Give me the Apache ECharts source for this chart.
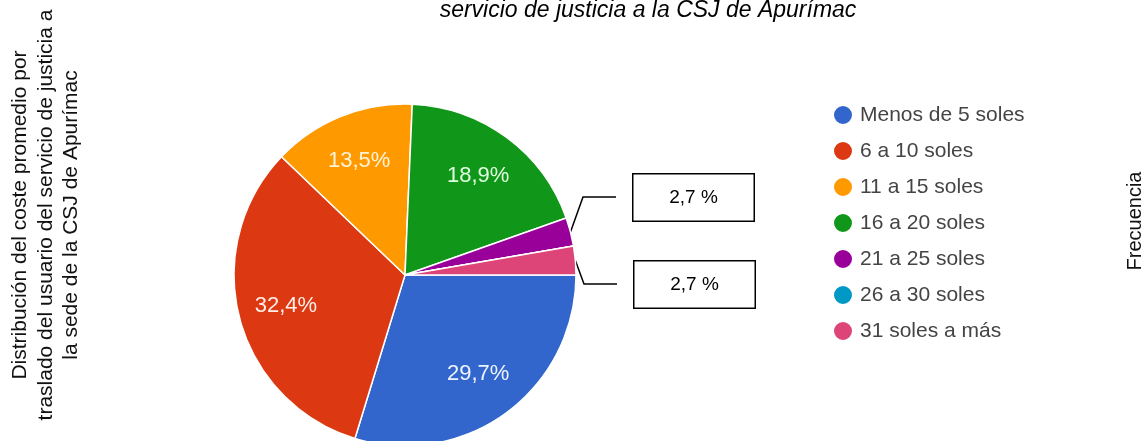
<!DOCTYPE html>
<html>
<head>
<meta charset="utf-8">
<script src="https://cdn.jsdelivr.net/npm/echarts@6/dist/echarts.min.js"></script>
<style>
html,body{margin:0;padding:0;background:#fff;}
#chart{width:1146px;height:441px;}
</style>
</head>
<body>
<div id="chart"></div>
<script>
const titleText = 'servicio de justicia a la CSJ de Apurímac';
const leftTitle = ['Distribución del coste promedio por', 'traslado del usuario del servicio de justicia a', 'la sede de la CSJ de Apurímac'];
const rightTitle = 'Frecuencia';
const categories = ['Menos de 5 soles', '6 a 10 soles', '11 a 15 soles', '16 a 20 soles', '21 a 25 soles', '26 a 30 soles', '31 soles a más'];
const counts = [11, 12, 5, 7, 1, 0, 1];
const colors = ['#3366cc', '#dc3912', '#ff9900', '#109618', '#990099', '#0099c6', '#dd4477'];
const insideLabelColors = ['#eef3ff', '#ffeee8', '#fff3d8', '#e0ffe0', '#ffffff', '#ffffff', '#ffffff'];
const calloutIdx = [4, 6];

const FONT = 'Liberation Sans, Arial, sans-serif';
const fmtPct = (p, sp) => p.toFixed(1).replace('.', ',') + (sp ? ' %' : '%');

const mainData = categories.map((n, i) => ({
  name: n,
  value: counts[i],
  itemStyle: { color: colors[i] },
  label: calloutIdx.indexOf(i) >= 0 ? { show: true } : { show: false },
  labelLine: { show: calloutIdx.indexOf(i) >= 0 }
}));
const labelData = categories.map((n, i) => ({
  name: n,
  value: counts[i],
  label: { show: counts[i] > 0 && calloutIdx.indexOf(i) < 0, color: insideLabelColors[i] }
}));

// callout box placement (annotation layout)
const boxLayout = {
  4: { left: 632, top: 173, bendY: 197 },
  6: { left: 633, top: 260, bendY: 284 }
};

const chart = echarts.init(document.getElementById('chart'));
chart.setOption({
  animation: false,
  title: {
    text: titleText,
    left: 648, textAlign: 'center', top: -1, padding: 0,
    textStyle: { fontSize: 23, fontStyle: 'italic', fontWeight: 'normal', color: '#000', fontFamily: FONT, lineHeight: 23 }
  },
  legend: {
    orient: 'vertical',
    left: 827, top: 99,
    icon: 'circle',
    itemWidth: 20, itemHeight: 20, itemGap: 14,
    data: categories,
    textStyle: { fontSize: 21, color: '#444', fontFamily: FONT, padding: [0, 0, 0, 2], lineHeight: 22 }
  },
  graphic: [
    {
      type: 'text', x: 46, y: 215, rotation: Math.PI / 2,
      style: { text: leftTitle.join('\n'), font: '21px ' + FONT, fill: '#111', textAlign: 'center', textVerticalAlign: 'middle', align: 'center', verticalAlign: 'middle', lineHeight: 25.5 }
    },
    {
      type: 'text', x: 1135, y: 221, rotation: Math.PI / 2,
      style: { text: rightTitle, font: '20px ' + FONT, fill: '#111', textAlign: 'center', textVerticalAlign: 'middle', align: 'center', verticalAlign: 'middle' }
    }
  ],
  series: [
    {
      type: 'pie',
      center: [405, 275],
      radius: [0, 171],
      startAngle: 0,
      clockwise: true,
      avoidLabelOverlap: false,
      legendHoverLink: false,
      itemStyle: { borderColor: '#fff', borderWidth: 1.5 },
      label: {
        position: 'outside',
        formatter: p => fmtPct(p.percent, true),
        fontSize: 19, color: '#000', fontFamily: FONT,
        backgroundColor: '#fff', borderColor: '#000', borderWidth: 1.5,
        width: 120, height: 46, lineHeight: 46, align: 'center', padding: 0
      },
      labelLine: { show: true, length: 10, length2: 30, smooth: false, lineStyle: { color: '#000', width: 1.5 } },
      labelLayout: function (params) {
        const b = boxLayout[params.dataIndex];
        if (!b) return {};
        const pts = params.labelLinePoints;
        const p0 = pts && pts[0] ? pts[0] : [params.rect.x, params.rect.y];
        const endX = b.left - 16;
        return {
          x: b.left + 61.5, y: b.top + 24.5, align: 'center', verticalAlign: 'middle',
          labelLinePoints: [p0, [endX - 33, b.bendY], [endX, b.bendY]]
        };
      },
      data: mainData
    },
    {
      type: 'pie',
      center: [405, 275],
      radius: [69, 171],
      startAngle: 0,
      clockwise: true,
      silent: true,
      legendHoverLink: false,
      itemStyle: { color: 'rgba(0,0,0,0)', borderWidth: 0 },
      label: {
        position: 'inside',
        formatter: p => fmtPct(p.percent, false),
        fontSize: 22, fontFamily: FONT
      },
      labelLine: { show: false },
      data: labelData
    }
  ]
});
</script>
</body>
</html>
